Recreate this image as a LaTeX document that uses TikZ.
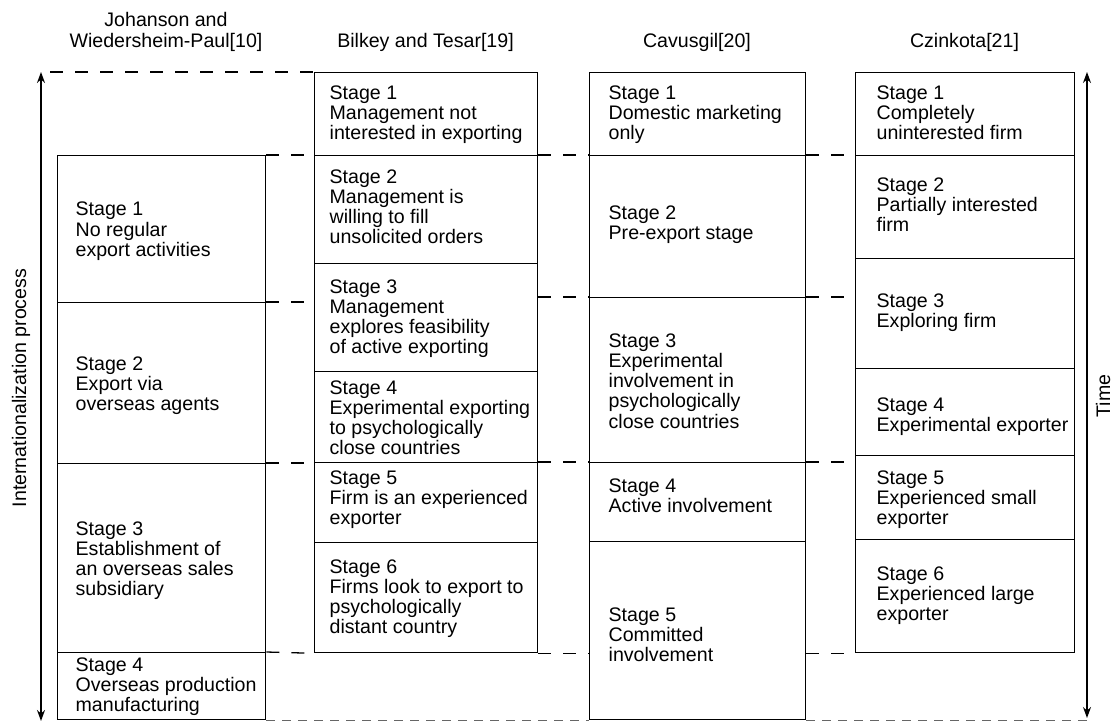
\documentclass[tikz,border=0pt]{standalone}
\usepackage{fontspec}
\setmainfont{Liberation Sans}
\usetikzlibrary{arrows.meta}

\begin{document}
\begin{tikzpicture}[x=1pt, y=-1pt, line width=1.3pt,
  stagebox/.style={draw, rectangle, inner sep=0pt, anchor=north west},
  stagetext/.style={anchor=north west, inner sep=0pt, align=left,
    font=\fontsize{19.6}{20.2}\selectfont, execute at begin node=\strut},
  head/.style={inner sep=0pt, font=\fontsize{19.6}{21}\selectfont},
  link/.style={dash pattern=on 13pt off 12pt},
  edgelink/.style={dash pattern=on 9pt off 7pt, line width=1pt, black!60},
  timeline/.style={{Stealth[length=11pt,width=8pt]}-{Stealth[length=11pt,width=8pt]}}]

\useasboundingbox (0,0) rectangle (1113,720);

% column headings
\node[head, align=center, anchor=north, execute at begin node=\strut] (hj) at (166,11.3) {Johanson and\\Wiedersheim-Paul[10]};
\node[head, anchor=base] (hb) at (425.5,47) {Bilkey and Tesar[19]};
\node[head, anchor=base] (hc) at (697,47) {Cavusgil[20]};
\node[head, anchor=base] (hz) at (964.5,47) {Czinkota[21]};

% Johanson and Wiedersheim-Paul
\node[stagebox, minimum width=208pt, minimum height=147pt] (j1) at (57,155) {};
\node[stagebox, minimum width=208pt, minimum height=161pt] (j2) at (57,302) {};
\node[stagebox, minimum width=208pt, minimum height=189pt] (j3) at (57,463) {};
\node[stagebox, minimum width=208pt, minimum height=67pt] (j4) at (57,652) {};
\node[stagetext] (j1t) at (75,201.5) {Stage 1\\No regular\\export activities};
\node[stagetext] (j2t) at (75,356) {Stage 2\\Export via\\overseas agents};
\node[stagetext] (j3t) at (75,521) {Stage 3\\Establishment of\\an overseas sales\\subsidiary};
\node[stagetext] (j4t) at (75,657) {Stage 4\\Overseas production\\manufacturing};

% Bilkey and Tesar
\node[stagebox, minimum width=223pt, minimum height=83pt] (b1) at (314,72) {};
\node[stagebox, minimum width=223pt, minimum height=108pt] (b2) at (314,155) {};
\node[stagebox, minimum width=223pt, minimum height=108pt] (b3) at (314,263) {};
\node[stagebox, minimum width=223pt, minimum height=91pt] (b4) at (314,371) {};
\node[stagebox, minimum width=223pt, minimum height=80pt] (b5) at (314,462) {};
\node[stagebox, minimum width=223pt, minimum height=110pt] (b6) at (314,542) {};
\node[stagetext] (b1t) at (329,85) {Stage 1\\Management not\\interested in exporting};
\node[stagetext] (b2t) at (329,169) {Stage 2\\Management is\\willing to fill\\unsolicited orders};
\node[stagetext] (b3t) at (329,279) {Stage 3\\Management\\explores feasibility\\of active exporting};
\node[stagetext] (b4t) at (329,380) {Stage 4\\Experimental exporting\\to psychologically\\close countries};
\node[stagetext] (b5t) at (329,470) {Stage 5\\Firm is an experienced\\exporter};
\node[stagetext] (b6t) at (329,559) {Stage 6\\Firms look to export to\\psychologically\\distant country};

% Cavusgil
\node[stagebox, minimum width=216pt, minimum height=83pt] (c1) at (589,72) {};
\node[stagebox, minimum width=216pt, minimum height=142pt] (c2) at (589,155) {};
\node[stagebox, minimum width=216pt, minimum height=165pt] (c3) at (589,297) {};
\node[stagebox, minimum width=216pt, minimum height=79pt] (c4) at (589,462) {};
\node[stagebox, minimum width=216pt, minimum height=178pt] (c5) at (589,541) {};
\node[stagetext] (c1t) at (608,85) {Stage 1\\Domestic marketing\\only};
\node[stagetext] (c2t) at (608,205) {Stage 2\\Pre-export stage};
\node[stagetext] (c3t) at (608,333) {Stage 3\\Experimental\\involvement in\\psychologically\\close countries};
\node[stagetext] (c4t) at (608,478) {Stage 4\\Active involvement};
\node[stagetext] (c5t) at (608,607) {Stage 5\\Committed\\involvement};

% Czinkota
\node[stagebox, minimum width=219pt, minimum height=83pt] (z1) at (855,72) {};
\node[stagebox, minimum width=219pt, minimum height=103pt] (z2) at (855,155) {};
\node[stagebox, minimum width=219pt, minimum height=110pt] (z3) at (855,258) {};
\node[stagebox, minimum width=219pt, minimum height=87pt] (z4) at (855,368) {};
\node[stagebox, minimum width=219pt, minimum height=84pt] (z5) at (855,455) {};
\node[stagebox, minimum width=219pt, minimum height=113pt] (z6) at (855,539) {};
\node[stagetext] (z1t) at (876,85) {Stage 1\\Completely\\uninterested firm};
\node[stagetext] (z2t) at (876,177) {Stage 2\\Partially interested\\firm};
\node[stagetext] (z3t) at (876,293) {Stage 3\\Exploring firm};
\node[stagetext] (z4t) at (876,397) {Stage 4\\Experimental exporter};
\node[stagetext] (z5t) at (876,470) {Stage 5\\Experienced small\\exporter};
\node[stagetext] (z6t) at (876,566) {Stage 6\\Experienced large\\exporter};

% side axes
\coordinate (ltop) at (41,72);
\coordinate (lbot) at (41,721);
\coordinate (rtop) at (1087,72);
\coordinate (rbot) at (1087,718);
\coordinate (lstart) at (50,72);
\node[head, rotate=90, anchor=base] (lab) at (26,388) {Internationalization process};
\node[head, rotate=90, anchor=base] (tim) at (1110,396) {Time};

% dashed stage alignments
\draw[link] (j1.north east) -- (b2.north west);
\draw[link] (b2.north east) -- (c2.north west);
\draw[link] (c2.north east) -- (z2.north west);
\draw[link] (lstart) -- (b1.north west);
\draw[link] (j2.north east) -- (j2.north east -| b3.west);
\draw[link] (c3.north west -| b3.east) -- (c3.north west);
\draw[link] (c3.north east) -- (c3.north east -| z3.west);
\draw[link] (j3.north east) -- (j3.north east -| b5.west);
\draw[link] (b5.north east) -- (c4.north west);
\draw[link] (c4.north east) -- (c4.north east -| z5.west);
\draw[link] (j4.north east) -- (b6.south west);
\draw[link] (b6.south east) -- (b6.south east -| c5.west);
\draw[link] (z6.south west -| c5.east) -- (z6.south west);
\draw[edgelink] (j4.south east) -- (j4.south east -| c5.west);
\draw[edgelink] (c5.south east) -- (c5.south east -| rbot);

\draw[timeline] (lbot) -- (ltop);
\draw[timeline] (rbot) -- (rtop);
\end{tikzpicture}
\end{document}
